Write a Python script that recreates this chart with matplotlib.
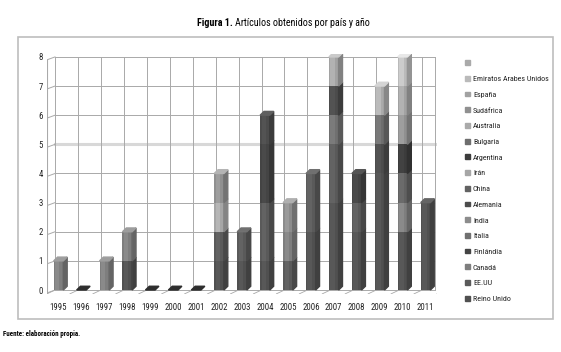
import matplotlib.pyplot as plt
from matplotlib.patches import Polygon, Rectangle

plt.rcParams['font.family'] = ['Roboto Condensed', 'DejaVu Sans']

years = ['1995', '1996', '1997', '1998', '1999', '2000', '2001', '2002', '2003',
         '2004', '2005', '2006', '2007', '2008', '2009', '2010', '2011']

# series listed bottom of the stack first
countries = ['Reino Unido', 'EE.UU', 'Canadá', 'Finlándia', 'Italia', 'India',
             'Alemania', 'China', 'Irán', 'Argentina', 'Bulgaria', 'Australia',
             'Sudáfrica', 'España', 'Emiratos Arabes Unidos', '']
colors = ['#505050', '#5a5a5a', '#7e7e7e', '#444444', '#707070', '#8c8c8c',
          '#4c4c4c', '#626262', '#a6a6a6', '#3c3c3c', '#6e6e6e', '#aaaaaa',
          '#909090', '#a2a2a2', '#bababa', '#aaaaaa']

reino_unido = [0, 0, 0, 1, 0, 0, 0, 1, 1, 1, 0, 2, 3, 2, 4, 2, 3]
eeuu        = [0, 0, 0, 0, 0, 0, 0, 1, 1, 2, 1, 2, 2, 1, 0, 0, 0]
canada      = [1, 0, 1, 1, 0, 0, 0, 0, 0, 0, 1, 0, 0, 0, 0, 1, 0]
finlandia   = [0, 0, 0, 0, 0, 0, 0, 0, 0, 2, 0, 0, 0, 1, 0, 0, 0]
italia      = [0, 0, 0, 0, 0, 0, 0, 0, 0, 0, 0, 0, 1, 0, 0, 0, 0]
india       = [0, 0, 0, 0, 0, 0, 0, 0, 0, 0, 1, 0, 0, 0, 0, 0, 0]
alemania    = [0, 0, 0, 0, 0, 0, 0, 0, 0, 1, 0, 0, 1, 0, 1, 0, 0]
china       = [0, 0, 0, 0, 0, 0, 0, 0, 0, 0, 0, 0, 0, 0, 0, 1, 0]
iran        = [0, 0, 0, 0, 0, 0, 0, 1, 0, 0, 0, 0, 0, 0, 0, 0, 0]
argentina   = [0, 0, 0, 0, 0, 0, 0, 0, 0, 0, 0, 0, 0, 0, 0, 1, 0]
bulgaria    = [0, 0, 0, 0, 0, 0, 0, 0, 0, 0, 0, 0, 0, 0, 1, 0, 0]
australia   = [0, 0, 0, 0, 0, 0, 0, 0, 0, 0, 0, 0, 0, 0, 1, 0, 0]
sudafrica   = [0, 0, 0, 0, 0, 0, 0, 1, 0, 0, 0, 0, 0, 0, 0, 1, 0]
espana      = [0, 0, 0, 0, 0, 0, 0, 0, 0, 0, 0, 0, 1, 0, 0, 1, 0]
emiratos    = [0, 0, 0, 0, 0, 0, 0, 0, 0, 0, 0, 0, 0, 0, 0, 1, 0]
blank       = [0] * 17

series = [reino_unido, eeuu, canada, finlandia, italia, india, alemania, china,
          iran, argentina, bulgaria, australia, sudafrica, espana, emiratos, blank]


def shade(c, f):
    r, g, b = [int(c[i:i + 2], 16) for i in (1, 3, 5)]
    return '#%02x%02x%02x' % tuple(max(0, min(255, int(v * f))) for v in (r, g, b))


fig = plt.figure(figsize=(5.61, 3.52), dpi=100)
ax = fig.add_axes([47 / 561, 0.1636, 390 / 561, 0.683])
ax.set_xlim(-0.5, 16.5)
ax.set_ylim(-0.15, 8.1)

# outer frame
fig.patches.append(Rectangle((18 / 561, 1 - 319 / 352), 535 / 561, 282 / 352,
                             transform=fig.transFigure, fill=False,
                             edgecolor='#bdbdbd', lw=1.2))

# back wall grid
wall_l, wall_r = -0.15, 16.4
for yv in range(0, 9):
    ax.plot([wall_l, wall_r], [yv, yv], color='#d8d8d8' if yv == 5 else '#a9a9a9',
            lw=2.2 if yv == 5 else 0.7, zorder=0)
    ax.plot([-0.5, wall_l], [yv - 0.1, yv], color='#a9a9a9', lw=0.7, zorder=0)
for k in range(17):
    ax.plot([k + wall_l, k + wall_l], [0, 8], color='#a9a9a9', lw=0.7, zorder=0)
ax.plot([wall_r, wall_r], [0, 8], color='#a9a9a9', lw=0.7, zorder=0)
ax.plot([-0.5, -0.5], [-0.1, 7.9], color='#a9a9a9', lw=0.8, zorder=0)
# floor
for k in range(18):
    ax.plot([k - 0.5, k + wall_l], [-0.13, 0], color='#a9a9a9', lw=0.6, zorder=0)
ax.plot([-0.5, 16.5], [-0.13, -0.13], color='#c8c8c8', lw=0.6, zorder=0)

w, dx, dy = 0.42, 0.17, 0.13
x = list(range(len(years)))
for i in x:
    base = 0
    for s, c in zip(series, colors):
        h = s[i]
        if h == 0:
            continue
        ax.bar(i, h, bottom=base, width=w, color=c, zorder=3)
        # lighter band on the front face
        ax.bar(i - w * 0.12, h, bottom=base, width=w * 0.45, color=shade(c, 1.1),
               lw=0, zorder=3)
        ax.add_patch(Polygon([(i + w / 2, base), (i + w / 2 + dx, base + dy),
                              (i + w / 2 + dx, base + h + dy), (i + w / 2, base + h)],
                             closed=True, color=shade(c, 0.8), zorder=3))
        base += h
        top_c = c
    if base == 0:
        top_c = '#2e2e2e'
    else:
        top_c = shade(top_c, 1.25)
    ax.add_patch(Polygon([(i - w / 2, base), (i + w / 2, base),
                          (i + w / 2 + dx, base + dy), (i - w / 2 + dx, base + dy)],
                         closed=True, color=top_c, zorder=4))

for sp in ax.spines.values():
    sp.set_visible(False)
ax.set_xticks(x)
ax.set_xticklabels(years, fontsize=6.3, color='#222222')
ax.set_yticks(range(0, 9))
ax.set_yticklabels([str(v) for v in range(0, 9)], fontsize=6.3, color='#222222')
ax.tick_params(length=0, pad=3)
ax.tick_params(axis='x', pad=6)

# legend
handles = [Rectangle((0, 0), 1, 1, color=c) for c in colors]
fig.legend(handles[::-1], countries[::-1], loc='upper left',
           bbox_to_anchor=(462 / 561, 1 - 57 / 352), frameon=False,
           fontsize=5.8, handlelength=0.55, handleheight=0.55, handletextpad=0.4,
           labelspacing=1.17, borderaxespad=0, labelcolor='#222222')

# title
fig.text(235 / 561, 1 - 23 / 352, 'Figura 1. ', fontsize=7.2, fontweight='bold',
         ha='right', va='center')
fig.text(235 / 561, 1 - 23 / 352, 'Artículos obtenidos por país y año', fontsize=7.2,
         ha='left', va='center')
fig.text(3 / 561, 1 - 334 / 352, 'Fuente: elaboración propia.', fontsize=5,
         fontweight='bold', ha='left', va='center')

fig.savefig('out.png', dpi=100)
